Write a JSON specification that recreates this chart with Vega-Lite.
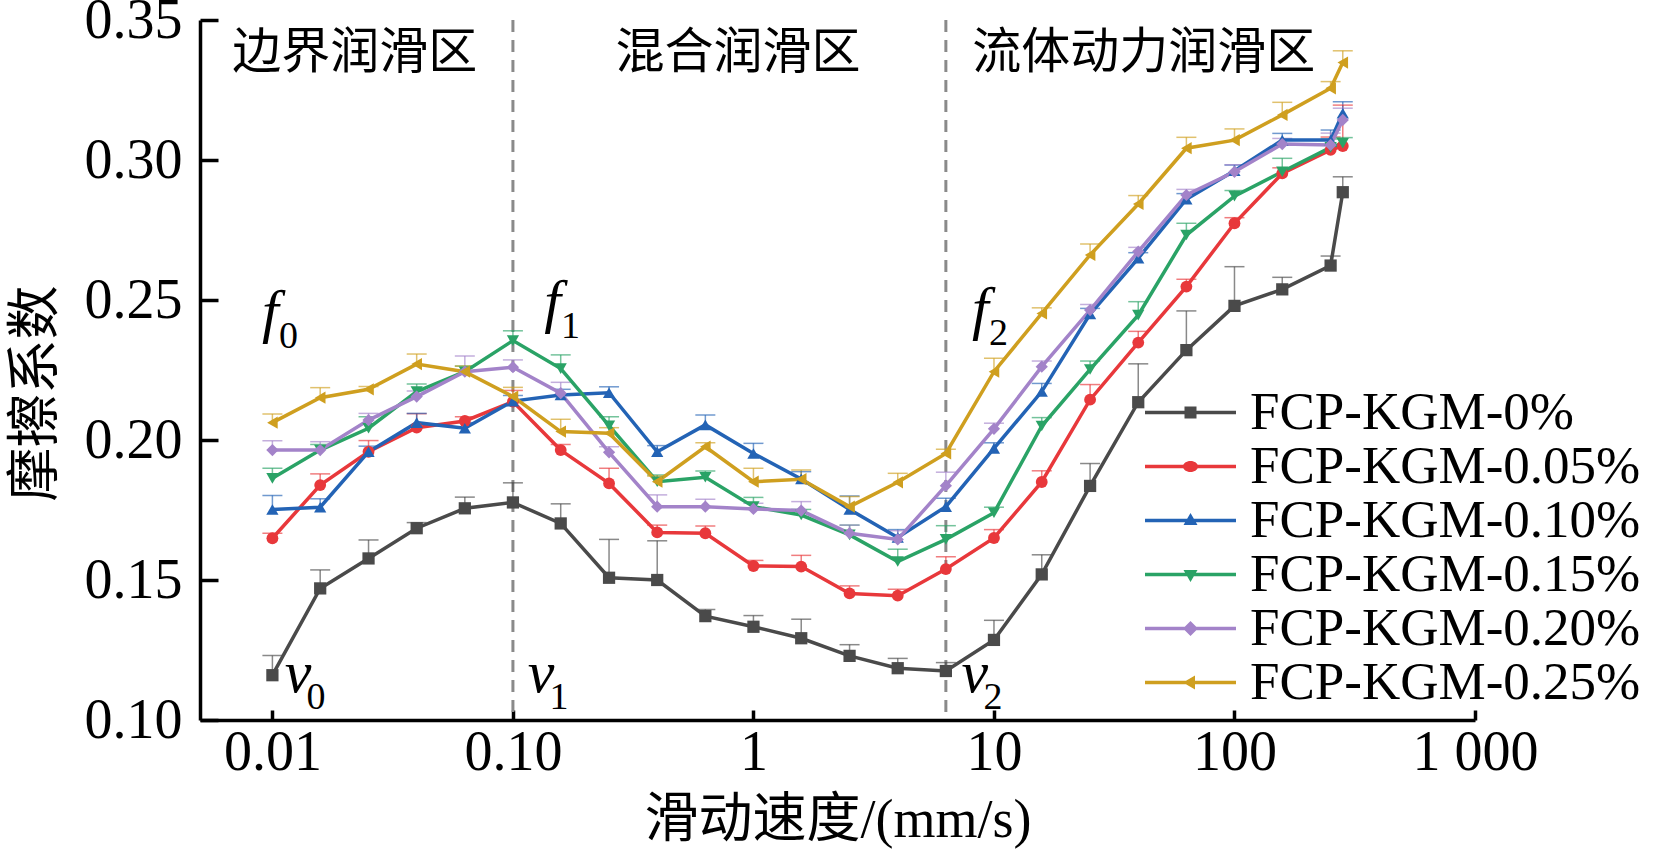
{
  "$schema": "https://vega.github.io/schema/vega-lite/v6.json",
  "description": "Friction coefficient vs sliding speed for FCP-KGM films with different KGM content.",
  "width": 1275,
  "height": 700,
  "autosize": {"type": "none"},
  "padding": {"left": 200, "top": 20, "right": 200, "bottom": 130},
  "background": "white",
  "config": {"view": {"stroke": null}, "legend": {"symbolOpacity": 1}},
  "datasets": {
    "bounds": [{"v": 0.1}, {"v": 6.31}],
    "zones": [
      {"t": "边界润滑区", "v": 0.022, "f": 0.3327},
      {"t": "混合润滑区", "v": 0.862, "f": 0.3327},
      {"t": "流体动力润滑区", "v": 41.97, "f": 0.3327}
    ],
    "marks": [
      {"m": "f", "n": "0", "v": 0.00981, "f": 0.2389},
      {"m": "f", "n": "1", "v": 0.1461, "f": 0.2425},
      {"m": "f", "n": "2", "v": 8.785, "f": 0.24},
      {"m": "v", "n": "0", "v": 0.01277, "f": 0.1101},
      {"m": "v", "n": "1", "v": 0.1309, "f": 0.1101},
      {"m": "v", "n": "2", "v": 8.33, "f": 0.1101}
    ],
    "fric": [
      {"s": "FCP-KGM-0%", "v": 0.01, "f": 0.116, "hi": 0.123},
      {"s": "FCP-KGM-0%", "v": 0.0158, "f": 0.147, "hi": 0.1536},
      {"s": "FCP-KGM-0%", "v": 0.0251, "f": 0.1577, "hi": 0.1643},
      {"s": "FCP-KGM-0%", "v": 0.0398, "f": 0.1685, "hi": 0.1705},
      {"s": "FCP-KGM-0%", "v": 0.0631, "f": 0.1756, "hi": 0.1796},
      {"s": "FCP-KGM-0%", "v": 0.1, "f": 0.1777, "hi": 0.1847},
      {"s": "FCP-KGM-0%", "v": 0.158, "f": 0.1702, "hi": 0.1772},
      {"s": "FCP-KGM-0%", "v": 0.251, "f": 0.1508, "hi": 0.1645},
      {"s": "FCP-KGM-0%", "v": 0.398, "f": 0.15, "hi": 0.164},
      {"s": "FCP-KGM-0%", "v": 0.631, "f": 0.1371, "hi": 0.1395},
      {"s": "FCP-KGM-0%", "v": 1, "f": 0.1333, "hi": 0.1373},
      {"s": "FCP-KGM-0%", "v": 1.58, "f": 0.1292, "hi": 0.136},
      {"s": "FCP-KGM-0%", "v": 2.51, "f": 0.1229, "hi": 0.1269},
      {"s": "FCP-KGM-0%", "v": 3.98, "f": 0.1185, "hi": 0.122},
      {"s": "FCP-KGM-0%", "v": 6.31, "f": 0.1175, "hi": 0.1205},
      {"s": "FCP-KGM-0%", "v": 10, "f": 0.1286, "hi": 0.1356},
      {"s": "FCP-KGM-0%", "v": 15.8, "f": 0.152, "hi": 0.159},
      {"s": "FCP-KGM-0%", "v": 25.1, "f": 0.1836, "hi": 0.1916},
      {"s": "FCP-KGM-0%", "v": 39.8, "f": 0.2135, "hi": 0.2272},
      {"s": "FCP-KGM-0%", "v": 63.1, "f": 0.2321, "hi": 0.2461},
      {"s": "FCP-KGM-0%", "v": 100, "f": 0.2479, "hi": 0.2619},
      {"s": "FCP-KGM-0%", "v": 158, "f": 0.2538, "hi": 0.2581},
      {"s": "FCP-KGM-0%", "v": 251, "f": 0.2623, "hi": 0.2657},
      {"s": "FCP-KGM-0%", "v": 282, "f": 0.2885, "hi": 0.294},
      {"s": "FCP-KGM-0.05%", "v": 0.01, "f": 0.1649, "hi": 0.1667},
      {"s": "FCP-KGM-0.05%", "v": 0.0158, "f": 0.1839, "hi": 0.1879},
      {"s": "FCP-KGM-0.05%", "v": 0.0251, "f": 0.1958, "hi": 0.1998},
      {"s": "FCP-KGM-0.05%", "v": 0.0398, "f": 0.2044, "hi": 0.2094},
      {"s": "FCP-KGM-0.05%", "v": 0.0631, "f": 0.2068, "hi": 0.2083},
      {"s": "FCP-KGM-0.05%", "v": 0.1, "f": 0.2137, "hi": 0.2177},
      {"s": "FCP-KGM-0.05%", "v": 0.158, "f": 0.1964, "hi": 0.1984},
      {"s": "FCP-KGM-0.05%", "v": 0.251, "f": 0.1845, "hi": 0.1899},
      {"s": "FCP-KGM-0.05%", "v": 0.398, "f": 0.167, "hi": 0.1696},
      {"s": "FCP-KGM-0.05%", "v": 0.631, "f": 0.1667, "hi": 0.1693},
      {"s": "FCP-KGM-0.05%", "v": 1, "f": 0.155, "hi": 0.157},
      {"s": "FCP-KGM-0.05%", "v": 1.58, "f": 0.1548, "hi": 0.1588},
      {"s": "FCP-KGM-0.05%", "v": 2.51, "f": 0.1452, "hi": 0.1479},
      {"s": "FCP-KGM-0.05%", "v": 3.98, "f": 0.1444, "hi": 0.1467},
      {"s": "FCP-KGM-0.05%", "v": 6.31, "f": 0.1539, "hi": 0.1583},
      {"s": "FCP-KGM-0.05%", "v": 10, "f": 0.165, "hi": 0.168},
      {"s": "FCP-KGM-0.05%", "v": 15.8, "f": 0.185, "hi": 0.189},
      {"s": "FCP-KGM-0.05%", "v": 25.1, "f": 0.2144, "hi": 0.2198},
      {"s": "FCP-KGM-0.05%", "v": 39.8, "f": 0.2348, "hi": 0.2388},
      {"s": "FCP-KGM-0.05%", "v": 63.1, "f": 0.2548, "hi": 0.2574},
      {"s": "FCP-KGM-0.05%", "v": 100, "f": 0.2774, "hi": 0.2794},
      {"s": "FCP-KGM-0.05%", "v": 158, "f": 0.2952, "hi": 0.2972},
      {"s": "FCP-KGM-0.05%", "v": 251, "f": 0.3036, "hi": 0.3082},
      {"s": "FCP-KGM-0.05%", "v": 282, "f": 0.305, "hi": 0.3196},
      {"s": "FCP-KGM-0.10%", "v": 0.01, "f": 0.1752, "hi": 0.1802},
      {"s": "FCP-KGM-0.10%", "v": 0.0158, "f": 0.176, "hi": 0.179},
      {"s": "FCP-KGM-0.10%", "v": 0.0251, "f": 0.1958, "hi": 0.1978},
      {"s": "FCP-KGM-0.10%", "v": 0.0398, "f": 0.2062, "hi": 0.2095},
      {"s": "FCP-KGM-0.10%", "v": 0.0631, "f": 0.2042, "hi": 0.2062},
      {"s": "FCP-KGM-0.10%", "v": 0.1, "f": 0.2139, "hi": 0.2159},
      {"s": "FCP-KGM-0.10%", "v": 0.158, "f": 0.2161, "hi": 0.2181},
      {"s": "FCP-KGM-0.10%", "v": 0.251, "f": 0.2169, "hi": 0.219},
      {"s": "FCP-KGM-0.10%", "v": 0.398, "f": 0.1958, "hi": 0.198},
      {"s": "FCP-KGM-0.10%", "v": 0.631, "f": 0.2054, "hi": 0.2089},
      {"s": "FCP-KGM-0.10%", "v": 1, "f": 0.1952, "hi": 0.1988},
      {"s": "FCP-KGM-0.10%", "v": 1.58, "f": 0.1861, "hi": 0.1887},
      {"s": "FCP-KGM-0.10%", "v": 2.51, "f": 0.1752, "hi": 0.18},
      {"s": "FCP-KGM-0.10%", "v": 3.98, "f": 0.1652, "hi": 0.168},
      {"s": "FCP-KGM-0.10%", "v": 6.31, "f": 0.1762, "hi": 0.1792},
      {"s": "FCP-KGM-0.10%", "v": 10, "f": 0.197, "hi": 0.199},
      {"s": "FCP-KGM-0.10%", "v": 15.8, "f": 0.2173, "hi": 0.2202},
      {"s": "FCP-KGM-0.10%", "v": 25.1, "f": 0.245, "hi": 0.247},
      {"s": "FCP-KGM-0.10%", "v": 39.8, "f": 0.2649, "hi": 0.2669},
      {"s": "FCP-KGM-0.10%", "v": 63.1, "f": 0.286, "hi": 0.288},
      {"s": "FCP-KGM-0.10%", "v": 100, "f": 0.2962, "hi": 0.2982},
      {"s": "FCP-KGM-0.10%", "v": 158, "f": 0.3071, "hi": 0.3095},
      {"s": "FCP-KGM-0.10%", "v": 251, "f": 0.3071, "hi": 0.3107},
      {"s": "FCP-KGM-0.10%", "v": 282, "f": 0.3167, "hi": 0.3208},
      {"s": "FCP-KGM-0.15%", "v": 0.01, "f": 0.1863, "hi": 0.1899},
      {"s": "FCP-KGM-0.15%", "v": 0.0158, "f": 0.1964, "hi": 0.1984},
      {"s": "FCP-KGM-0.15%", "v": 0.0251, "f": 0.2042, "hi": 0.2083},
      {"s": "FCP-KGM-0.15%", "v": 0.0398, "f": 0.2173, "hi": 0.22},
      {"s": "FCP-KGM-0.15%", "v": 0.0631, "f": 0.2244, "hi": 0.2264},
      {"s": "FCP-KGM-0.15%", "v": 0.1, "f": 0.2355, "hi": 0.239},
      {"s": "FCP-KGM-0.15%", "v": 0.158, "f": 0.2255, "hi": 0.2304},
      {"s": "FCP-KGM-0.15%", "v": 0.251, "f": 0.2051, "hi": 0.2083},
      {"s": "FCP-KGM-0.15%", "v": 0.398, "f": 0.1851, "hi": 0.1875},
      {"s": "FCP-KGM-0.15%", "v": 0.631, "f": 0.1867, "hi": 0.1889},
      {"s": "FCP-KGM-0.15%", "v": 1, "f": 0.1762, "hi": 0.1795},
      {"s": "FCP-KGM-0.15%", "v": 1.58, "f": 0.1732, "hi": 0.1752},
      {"s": "FCP-KGM-0.15%", "v": 2.51, "f": 0.1661, "hi": 0.1696},
      {"s": "FCP-KGM-0.15%", "v": 3.98, "f": 0.1566, "hi": 0.161},
      {"s": "FCP-KGM-0.15%", "v": 6.31, "f": 0.1645, "hi": 0.1694},
      {"s": "FCP-KGM-0.15%", "v": 10, "f": 0.174, "hi": 0.176},
      {"s": "FCP-KGM-0.15%", "v": 15.8, "f": 0.205, "hi": 0.208},
      {"s": "FCP-KGM-0.15%", "v": 25.1, "f": 0.2252, "hi": 0.2282},
      {"s": "FCP-KGM-0.15%", "v": 39.8, "f": 0.2446, "hi": 0.2494},
      {"s": "FCP-KGM-0.15%", "v": 63.1, "f": 0.2732, "hi": 0.2774},
      {"s": "FCP-KGM-0.15%", "v": 100, "f": 0.2871, "hi": 0.2891},
      {"s": "FCP-KGM-0.15%", "v": 158, "f": 0.2958, "hi": 0.3006},
      {"s": "FCP-KGM-0.15%", "v": 251, "f": 0.3045, "hi": 0.3075},
      {"s": "FCP-KGM-0.15%", "v": 282, "f": 0.306, "hi": 0.308},
      {"s": "FCP-KGM-0.20%", "v": 0.01, "f": 0.1964, "hi": 0.1997},
      {"s": "FCP-KGM-0.20%", "v": 0.0158, "f": 0.1964, "hi": 0.1994},
      {"s": "FCP-KGM-0.20%", "v": 0.0251, "f": 0.2071, "hi": 0.2095},
      {"s": "FCP-KGM-0.20%", "v": 0.0398, "f": 0.2155, "hi": 0.2175},
      {"s": "FCP-KGM-0.20%", "v": 0.0631, "f": 0.2244, "hi": 0.23},
      {"s": "FCP-KGM-0.20%", "v": 0.1, "f": 0.226, "hi": 0.2286},
      {"s": "FCP-KGM-0.20%", "v": 0.158, "f": 0.2167, "hi": 0.2206},
      {"s": "FCP-KGM-0.20%", "v": 0.251, "f": 0.1956, "hi": 0.1976},
      {"s": "FCP-KGM-0.20%", "v": 0.398, "f": 0.1762, "hi": 0.1804},
      {"s": "FCP-KGM-0.20%", "v": 0.631, "f": 0.1762, "hi": 0.1788},
      {"s": "FCP-KGM-0.20%", "v": 1, "f": 0.1754, "hi": 0.1774},
      {"s": "FCP-KGM-0.20%", "v": 1.58, "f": 0.1748, "hi": 0.178},
      {"s": "FCP-KGM-0.20%", "v": 2.51, "f": 0.1667, "hi": 0.1696},
      {"s": "FCP-KGM-0.20%", "v": 3.98, "f": 0.1645, "hi": 0.1676},
      {"s": "FCP-KGM-0.20%", "v": 6.31, "f": 0.1837, "hi": 0.1885},
      {"s": "FCP-KGM-0.20%", "v": 10, "f": 0.204, "hi": 0.206},
      {"s": "FCP-KGM-0.20%", "v": 15.8, "f": 0.2262, "hi": 0.2282},
      {"s": "FCP-KGM-0.20%", "v": 25.1, "f": 0.2464, "hi": 0.2484},
      {"s": "FCP-KGM-0.20%", "v": 39.8, "f": 0.2673, "hi": 0.2688},
      {"s": "FCP-KGM-0.20%", "v": 63.1, "f": 0.2875, "hi": 0.2895},
      {"s": "FCP-KGM-0.20%", "v": 100, "f": 0.2958, "hi": 0.2983},
      {"s": "FCP-KGM-0.20%", "v": 158, "f": 0.3057, "hi": 0.3077},
      {"s": "FCP-KGM-0.20%", "v": 251, "f": 0.3054, "hi": 0.3096},
      {"s": "FCP-KGM-0.20%", "v": 282, "f": 0.3143, "hi": 0.3185},
      {"s": "FCP-KGM-0.25%", "v": 0.01, "f": 0.2062, "hi": 0.2093},
      {"s": "FCP-KGM-0.25%", "v": 0.0158, "f": 0.2151, "hi": 0.2187},
      {"s": "FCP-KGM-0.25%", "v": 0.0251, "f": 0.2181, "hi": 0.2191},
      {"s": "FCP-KGM-0.25%", "v": 0.0398, "f": 0.2271, "hi": 0.2307},
      {"s": "FCP-KGM-0.25%", "v": 0.0631, "f": 0.2244, "hi": 0.2264},
      {"s": "FCP-KGM-0.25%", "v": 0.1, "f": 0.2155, "hi": 0.2188},
      {"s": "FCP-KGM-0.25%", "v": 0.158, "f": 0.203, "hi": 0.2074},
      {"s": "FCP-KGM-0.25%", "v": 0.251, "f": 0.2024, "hi": 0.2044},
      {"s": "FCP-KGM-0.25%", "v": 0.398, "f": 0.1851, "hi": 0.1871},
      {"s": "FCP-KGM-0.25%", "v": 0.631, "f": 0.1976, "hi": 0.199},
      {"s": "FCP-KGM-0.25%", "v": 1, "f": 0.1851, "hi": 0.1899},
      {"s": "FCP-KGM-0.25%", "v": 1.58, "f": 0.186, "hi": 0.1893},
      {"s": "FCP-KGM-0.25%", "v": 2.51, "f": 0.1762, "hi": 0.1798},
      {"s": "FCP-KGM-0.25%", "v": 3.98, "f": 0.1849, "hi": 0.1881},
      {"s": "FCP-KGM-0.25%", "v": 6.31, "f": 0.1952, "hi": 0.1967},
      {"s": "FCP-KGM-0.25%", "v": 10, "f": 0.2244, "hi": 0.2292},
      {"s": "FCP-KGM-0.25%", "v": 15.8, "f": 0.2452, "hi": 0.2472},
      {"s": "FCP-KGM-0.25%", "v": 25.1, "f": 0.2661, "hi": 0.27},
      {"s": "FCP-KGM-0.25%", "v": 39.8, "f": 0.2843, "hi": 0.2873},
      {"s": "FCP-KGM-0.25%", "v": 63.1, "f": 0.3042, "hi": 0.3081},
      {"s": "FCP-KGM-0.25%", "v": 100, "f": 0.3071, "hi": 0.3111},
      {"s": "FCP-KGM-0.25%", "v": 158, "f": 0.3161, "hi": 0.3206},
      {"s": "FCP-KGM-0.25%", "v": 251, "f": 0.3256, "hi": 0.328},
      {"s": "FCP-KGM-0.25%", "v": 282, "f": 0.3348, "hi": 0.339}
    ]
  },
  "layer": [
    {
      "data": {"name": "bounds"},
      "mark": {"type": "rule", "color": "#8a8a8a", "strokeWidth": 3, "strokeDash": [12, 8]},
      "encoding": {
        "x": {
          "field": "v",
          "type": "quantitative",
          "scale": {"type": "log", "domain": [0.005, 1000], "nice": false},
          "axis": {
            "values": [0.01, 0.1, 1, 10, 100, 1000],
            "labelExpr": "datum.value < 0.05 ? '0.01' : datum.value < 0.5 ? '0.10' : datum.value < 5 ? '1' : datum.value < 50 ? '10' : datum.value < 500 ? '100' : '1 000'",
            "title": "滑动速度/(mm/s)",
            "grid": false,
            "domainColor": "black",
            "domainWidth": 3.5,
            "tickColor": "black",
            "tickWidth": 3.5,
            "tickSize": -10,
            "labelPadding": 15,
            "labelFont": "Liberation Serif",
            "labelFontSize": 56,
            "labelColor": "black",
            "labelFlush": false,
            "labelOverlap": false,
            "titleFont": "Liberation Serif, Noto Sans CJK SC",
            "titleFontSize": 54,
            "titleFontWeight": "normal",
            "titleColor": "black",
            "titleBaseline": "middle",
            "titleY": 100
          }
        }
      }
    },
    {
      "data": {"name": "fric"},
      "mark": {"type": "rule", "strokeWidth": 1.5, "opacity": 0.65},
      "encoding": {
        "x": {"field": "v", "type": "quantitative"},
        "y": {"field": "f", "type": "quantitative"},
        "y2": {"field": "hi"},
        "color": {"field": "s", "type": "nominal"}
      }
    },
    {
      "data": {"name": "fric"},
      "mark": {"type": "tick", "orient": "horizontal", "size": 20, "thickness": 1.5, "opacity": 0.65},
      "encoding": {
        "x": {"field": "v", "type": "quantitative"},
        "y": {"field": "hi", "type": "quantitative"},
        "color": {"field": "s", "type": "nominal"}
      }
    },
    {
      "data": {"name": "fric"},
      "mark": {"type": "line", "strokeWidth": 3.5},
      "encoding": {
        "x": {"field": "v", "type": "quantitative"},
        "y": {
          "field": "f",
          "type": "quantitative",
          "scale": {"domain": [0.1, 0.35], "nice": false, "zero": false},
          "axis": {
            "values": [0.1, 0.15, 0.2, 0.25, 0.3, 0.35],
            "format": ".2f",
            "title": "摩擦系数",
            "grid": false,
            "domainColor": "black",
            "domainWidth": 3.5,
            "tickColor": "black",
            "tickWidth": 3.5,
            "tickSize": -18,
            "labelPadding": 36,
            "labelFont": "Liberation Serif",
            "labelFontSize": 56,
            "labelColor": "black",
            "labelFlush": false,
            "labelOverlap": false,
            "titleFont": "Noto Sans CJK SC",
            "titleFontSize": 54,
            "titleFontWeight": "normal",
            "titleColor": "black",
            "titleAngle": -90,
            "titleBaseline": "middle",
            "titleAlign": "center",
            "titleX": -164,
            "titleY": 373
          }
        },
        "color": {"field": "s", "type": "nominal"}
      }
    },
    {
      "data": {"name": "fric"},
      "transform": [{"filter": "datum.s === 'FCP-KGM-0%'"}],
      "mark": {"type": "point", "shape": "square", "filled": true, "opacity": 1, "size": 150},
      "encoding": {
        "x": {"field": "v", "type": "quantitative"},
        "y": {"field": "f", "type": "quantitative"},
        "color": {"field": "s", "type": "nominal"}
      }
    },
    {
      "data": {"name": "fric"},
      "transform": [{"filter": "datum.s === 'FCP-KGM-0.05%'"}],
      "mark": {"type": "point", "shape": "circle", "filled": true, "opacity": 1, "size": 140},
      "encoding": {
        "x": {"field": "v", "type": "quantitative"},
        "y": {"field": "f", "type": "quantitative"},
        "color": {"field": "s", "type": "nominal"}
      }
    },
    {
      "data": {"name": "fric"},
      "transform": [{"filter": "datum.s === 'FCP-KGM-0.10%'"}],
      "mark": {"type": "point", "shape": "triangle-up", "filled": true, "opacity": 1, "size": 150},
      "encoding": {
        "x": {"field": "v", "type": "quantitative"},
        "y": {"field": "f", "type": "quantitative"},
        "color": {"field": "s", "type": "nominal"}
      }
    },
    {
      "data": {"name": "fric"},
      "transform": [{"filter": "datum.s === 'FCP-KGM-0.15%'"}],
      "mark": {"type": "point", "shape": "triangle-down", "filled": true, "opacity": 1, "size": 150},
      "encoding": {
        "x": {"field": "v", "type": "quantitative"},
        "y": {"field": "f", "type": "quantitative"},
        "color": {"field": "s", "type": "nominal"}
      }
    },
    {
      "data": {"name": "fric"},
      "transform": [{"filter": "datum.s === 'FCP-KGM-0.20%'"}],
      "mark": {"type": "point", "shape": "diamond", "filled": true, "opacity": 1, "size": 150},
      "encoding": {
        "x": {"field": "v", "type": "quantitative"},
        "y": {"field": "f", "type": "quantitative"},
        "color": {"field": "s", "type": "nominal"}
      }
    },
    {
      "data": {"name": "fric"},
      "transform": [{"filter": "datum.s === 'FCP-KGM-0.25%'"}],
      "mark": {"type": "point", "shape": "triangle-left", "filled": true, "opacity": 1, "size": 150},
      "encoding": {
        "x": {"field": "v", "type": "quantitative"},
        "y": {"field": "f", "type": "quantitative"},
        "color": {"field": "s", "type": "nominal"}
      }
    },
    {
      "data": {"name": "fric"},
      "mark": {"type": "point", "filled": true, "opacity": 0, "size": 2500},
      "encoding": {
        "x": {"field": "v", "type": "quantitative"},
        "y": {"field": "f", "type": "quantitative"},
        "color": {
          "field": "s",
          "type": "nominal",
          "scale": {
            "domain": ["FCP-KGM-0%", "FCP-KGM-0.05%", "FCP-KGM-0.10%", "FCP-KGM-0.15%", "FCP-KGM-0.20%", "FCP-KGM-0.25%"],
            "range": ["#4a4a4a", "#e8383b", "#2363b5", "#2aa366", "#a383c9", "#cf9f1f"]
          },
          "legend": {
            "title": null,
            "orient": "none",
            "direction": "vertical",
            "legendX": 945,
            "legendY": 366,
            "padding": 0,
            "rowPadding": 0,
            "symbolSize": 2500,
            "symbolOffset": 19,
            "symbolStrokeWidth": 0,
            "symbolOpacity": 1,
            "labelFont": "Liberation Serif",
            "labelFontSize": 53,
            "labelColor": "black",
            "labelOffset": 33,
            "labelLimit": 0
          }
        },
        "shape": {
          "field": "s",
          "type": "nominal",
          "scale": {
            "domain": ["FCP-KGM-0%", "FCP-KGM-0.05%", "FCP-KGM-0.10%", "FCP-KGM-0.15%", "FCP-KGM-0.20%", "FCP-KGM-0.25%"],
            "range": [
              "M-1.82,-0.07H1.82V0.07H-1.82ZM-0.24,-0.24H0.24V0.24H-0.24Z",
              "M-1.82,-0.07H1.82V0.07H-1.82ZM0.3,0A0.3,0.22 0 1,1 -0.3,0A0.3,0.22 0 1,1 0.3,0Z",
              "M-1.82,-0.07H1.82V0.07H-1.82ZM0,-0.3L0.28,0.18L-0.28,0.18Z",
              "M-1.82,-0.07H1.82V0.07H-1.82ZM-0.28,-0.18L0.28,-0.18L0,0.3Z",
              "M-1.82,-0.07H1.82V0.07H-1.82ZM0,-0.3L0.3,0L0,0.3L-0.3,0Z",
              "M-1.82,-0.07H1.82V0.07H-1.82ZM-0.3,0L0.18,-0.28L0.18,0.28Z"
            ]
          },
          "legend": {
            "title": null,
            "orient": "none",
            "direction": "vertical",
            "legendX": 945,
            "legendY": 366,
            "padding": 0,
            "rowPadding": 0,
            "symbolSize": 2500,
            "symbolOffset": 19,
            "symbolStrokeWidth": 0,
            "symbolOpacity": 1,
            "labelFont": "Liberation Serif",
            "labelFontSize": 53,
            "labelColor": "black",
            "labelOffset": 33,
            "labelLimit": 0
          }
        }
      }
    },
    {
      "data": {"name": "zones"},
      "mark": {"type": "text", "font": "Noto Sans CJK SC", "fontSize": 49, "align": "center", "baseline": "alphabetic", "color": "black"},
      "encoding": {
        "x": {"field": "v", "type": "quantitative"},
        "y": {"field": "f", "type": "quantitative"},
        "text": {"field": "t"}
      }
    },
    {
      "data": {"name": "marks"},
      "mark": {"type": "text", "font": "Liberation Serif", "fontStyle": "italic", "fontSize": 60, "align": "center", "baseline": "alphabetic", "color": "black"},
      "encoding": {
        "x": {"field": "v", "type": "quantitative"},
        "y": {"field": "f", "type": "quantitative"},
        "text": {"field": "m"}
      }
    },
    {
      "data": {"name": "marks"},
      "mark": {"type": "text", "font": "Liberation Serif", "fontSize": 38, "align": "center", "baseline": "alphabetic", "color": "black", "dx": 18, "dy": 17},
      "encoding": {
        "x": {"field": "v", "type": "quantitative"},
        "y": {"field": "f", "type": "quantitative"},
        "text": {"field": "n"}
      }
    }
  ]
}
